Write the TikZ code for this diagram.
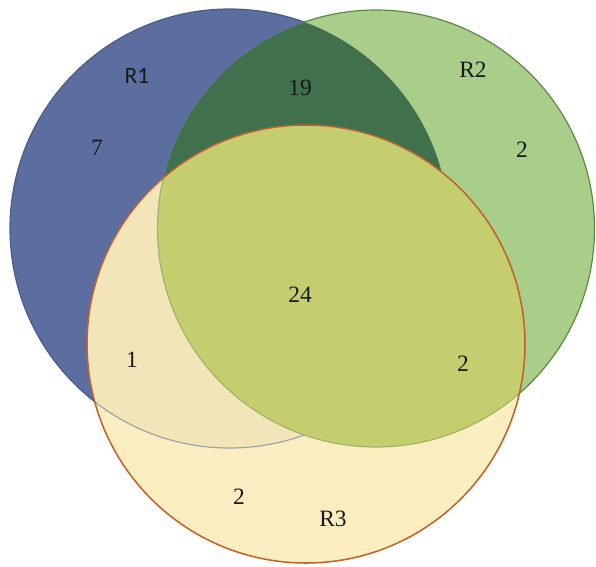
\documentclass[tikz,border=0pt]{standalone}
\usepackage{fontspec}
\setmainfont{Liberation Serif}
\newfontfamily\carlito{Carlito}
\usepackage{tikz}

\definecolor{oneblue}{RGB}{92,110,160}
\definecolor{oneedge}{RGB}{72,92,142}
\definecolor{twogreen}{RGB}{168,206,138}
\definecolor{twoedge}{RGB}{88,138,62}
\definecolor{bothdark}{RGB}{64,112,76}
\definecolor{threecream}{RGB}{250,237,192}
\definecolor{threeonone}{RGB}{242,230,184}
\definecolor{threeontwo}{RGB}{196,206,110}
\definecolor{threeedge}{RGB}{192,98,45}
\definecolor{oneghost}{RGB}{150,166,172}
\definecolor{twoghost}{RGB}{160,178,112}

\begin{document}
\begin{tikzpicture}[
  x=0.03cm,y=-0.03cm,
  setname/.style={font=\fontsize{20}{24}\selectfont, inner sep=0pt, text=black!90},
  count/.style={font=\fontsize{20}{24}\selectfont, inner sep=0pt, text=black!90},
  rim/.style={line width=1pt}
]
\useasboundingbox (0,0) rectangle (596,566);
\coordinate (c1) at (229.5,228.5);
\coordinate (c2) at (376,228.5);
\coordinate (c3) at (306,344);

\fill[oneblue] (c1) circle[radius=219.5];
\draw[rim, oneedge] (c1) circle[radius=219.5];
\fill[twogreen] (c2) circle[radius=218.5];
\begin{scope}
  \clip (c1) circle[radius=219.5];
  \fill[bothdark] (c2) circle[radius=218.5];
\end{scope}
\begin{scope}[even odd rule]
  \clip (0,0) rectangle (596,566) (c1) circle[radius=219.5];
  \draw[rim, twoedge] (c2) circle[radius=218.5];
\end{scope}

\begin{scope}
  \clip (c3) circle[radius=219];
  \fill[threecream] (c3) circle[radius=219];
  \fill[threeonone] (c1) circle[radius=219.5];
  \draw[rim, oneghost] (c1) circle[radius=219.5];
  \fill[threeontwo] (c2) circle[radius=218.5];
  \draw[rim, twoghost] (c2) circle[radius=218.5];
\end{scope}
\draw[rim, line width=1.3pt, threeedge] (c3) circle[radius=219];

\node[setname, font=\carlito\fontsize{20}{24}\selectfont] (nameA) at (137,76) {R1};
\node[setname] (nameB) at (473,70) {R2};
\node[setname] (nameC) at (333,519) {R3};

\node[count] (onlyA) at (97,148) {7};
\node[count] (onlyB) at (522,150) {2};
\node[count] (onlyC) at (239,497) {2};
\node[count] (abOut) at (300,88) {19};
\node[count] (acOut) at (132,360) {1};
\node[count] (bcOut) at (463,364) {2};
\node[count] (core) at (300,295) {24};
\end{tikzpicture}
\end{document}
